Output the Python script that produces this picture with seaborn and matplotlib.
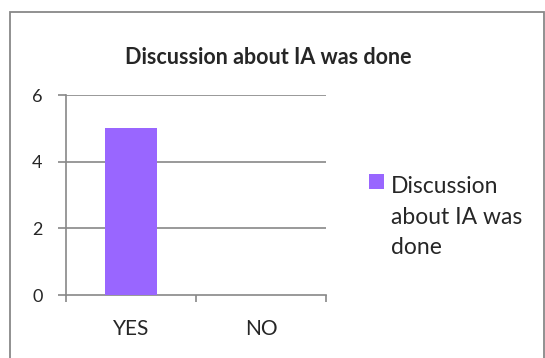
import matplotlib
matplotlib.use("Agg")
import matplotlib.pyplot as plt
import seaborn as sns
import pandas as pd
from matplotlib.patches import Rectangle

categories = ["YES", "NO"]
values = [5, 0]
y_ticks = [0, 2, 4, 6]
title = "Discussion about IA was done"
series_name = "Discussion about IA was done"
series_label_lines = ["Discussion", "about IA was", "done"]

sns.set_style("white")
plt.rcParams["font.family"] = ["Lato", "DejaVu Sans"]

bar_color = "#9966FF"
grid_color = "#888888"

df = pd.DataFrame({"answer": categories, "count": values})

W, H = 545, 358
fig = plt.figure(figsize=(W / 100, H / 100), dpi=100)
ax = fig.add_axes([66 / W, 63 / H, 260 / W, 200 / H])

sns.barplot(data=df, x="answer", y="count", color=bar_color, width=0.4,
            saturation=1, ax=ax, zorder=3, linewidth=0)

ax.set_xlim(-0.5, 1.5)
ax.set_ylim(0, 6)
ax.set_yticks(y_ticks)
ax.set_yticklabels([str(t) for t in y_ticks])
ax.set_xlabel("")
ax.set_ylabel("")

for t in y_ticks[1:]:
    ax.axhline(t, color=grid_color, lw=1.2, zorder=1)

for side in ["top", "right"]:
    ax.spines[side].set_visible(False)
for side in ["left", "bottom"]:
    ax.spines[side].set_color(grid_color)
    ax.spines[side].set_linewidth(1.2)

ax.tick_params(axis="y", direction="out", length=5.8, width=1.2, color=grid_color,
               pad=11, labelsize=13, left=True)
ax.tick_params(axis="x", which="major", length=0, pad=17, labelsize=15)
ax.set_xticks([-0.5, 0.5, 1.5], minor=True)
ax.tick_params(axis="x", which="minor", direction="out", length=5, width=1.2,
               color=grid_color, bottom=True)

fig.text(268 / W, 1 - 57 / H, title, ha="center", va="center",
         fontsize=15.5, fontweight="bold")

# legend: colour key and wrapped series name
fig.add_artist(Rectangle((369 / W, 1 - 189 / H), 15 / W, 15 / H,
                         transform=fig.transFigure, facecolor=bar_color,
                         edgecolor="none"))
fig.text(391 / W, 1 - 254 / H, "\n".join(series_label_lines), ha="left",
         va="baseline", fontsize=16.5, linespacing=1.55)

fig.add_artist(Rectangle((10 / W, -0.1), 534 / W, 1.1 - 12 / H,
                         transform=fig.transFigure, fill=False,
                         edgecolor=grid_color, lw=1.3))

fig.savefig("out.png", dpi=100)
